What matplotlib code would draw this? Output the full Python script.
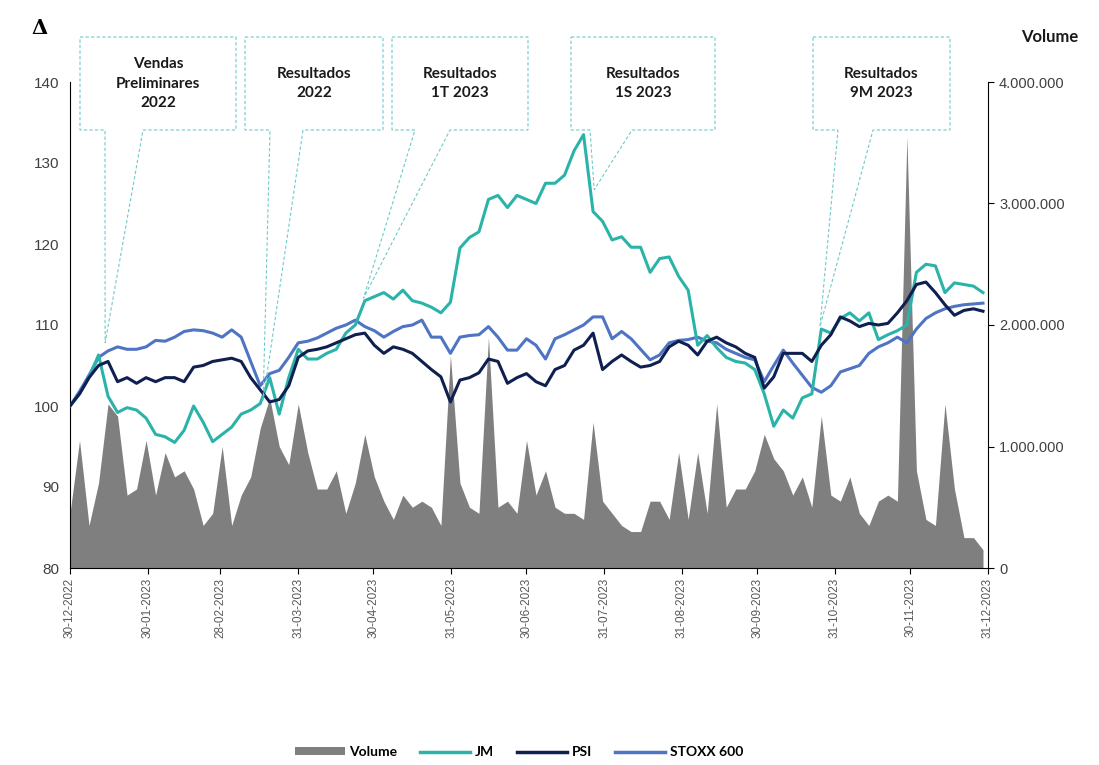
import matplotlib
matplotlib.use("Agg")
import matplotlib.pyplot as plt
import matplotlib.dates as mdates
import numpy as np
import pandas as pd
from matplotlib.lines import Line2D
from matplotlib.patches import Patch, Polygon
from matplotlib.ticker import FuncFormatter

# Index values (base 100), sampled roughly twice a week
jm = [
    100.0, 101.5, 103.5, 106.3, 101.2, 99.2, 99.8, 99.5, 98.5, 96.5,
    96.2, 95.5, 97.0, 100.0, 98.0, 95.6, 96.5, 97.4, 99.0, 99.5,
    100.3, 103.5, 99.0, 103.5, 107.0, 105.8, 105.8, 106.5, 107.0, 109.0,
    110.0, 113.0, 113.5, 114.0, 113.2, 114.3, 113.0, 112.7, 112.2, 111.5,
    112.8, 119.5, 120.8, 121.5, 125.5, 126.0, 124.5, 126.0, 125.5, 125.0,
    127.5, 127.5, 128.5, 131.5, 133.5, 124.0, 122.8, 120.5, 120.9, 119.6,
    119.6, 116.5, 118.2, 118.4, 116.0, 114.3, 107.5, 108.7, 107.2, 106.0,
    105.5, 105.3, 104.5, 101.5, 97.5, 99.5, 98.5, 101.0, 101.5, 109.5,
    109.0, 110.8, 111.5, 110.5, 111.5, 108.2, 108.8, 109.3, 110.0, 116.5,
    117.5, 117.3, 114.0, 115.2, 115.0, 114.8, 114.0,
]
psi = [
    100.0, 101.5, 103.5, 105.0, 105.5, 103.0, 103.5, 102.8, 103.5, 103.0,
    103.5, 103.5, 103.0, 104.8, 105.0, 105.5, 105.7, 105.9, 105.5, 103.5,
    102.0, 100.5, 100.8, 102.5, 106.0, 106.8, 107.0, 107.3, 107.8, 108.3,
    108.8, 109.0, 107.5, 106.5, 107.3, 107.0, 106.5, 105.5, 104.5, 103.6,
    100.5, 103.2, 103.5, 104.1, 105.8, 105.5, 102.8, 103.5, 104.0, 103.0,
    102.5, 104.5, 105.0, 106.9, 107.5, 109.0, 104.5, 105.5, 106.3, 105.5,
    104.8, 105.0, 105.5, 107.3, 108.0, 107.5, 106.3, 108.0, 108.5, 107.8,
    107.3, 106.5, 106.0, 102.2, 103.6, 106.5, 106.5, 106.5, 105.5, 107.5,
    108.8, 111.0, 110.5, 109.8, 110.2, 110.0, 110.2, 111.5, 113.0, 115.0,
    115.3, 114.0, 112.5, 111.2, 111.8, 112.0, 111.7,
]
stoxx = [
    100.0, 101.8, 103.8, 106.0, 106.8, 107.3, 107.0, 107.0, 107.3, 108.1,
    108.0, 108.5, 109.2, 109.4, 109.3, 109.0, 108.5, 109.4, 108.5, 105.5,
    102.5, 104.0, 104.4, 106.0, 107.8, 108.0, 108.4, 109.0, 109.6, 110.0,
    110.6, 109.8, 109.3, 108.5, 109.2, 109.8, 110.0, 110.6, 108.5, 108.5,
    106.5, 108.5, 108.7, 108.8, 109.8, 108.5, 106.9, 106.9, 108.3, 107.5,
    105.8, 108.3, 108.8, 109.4, 110.0, 111.0, 111.0, 108.3, 109.2, 108.3,
    107.0, 105.7, 106.3, 107.8, 108.1, 108.2, 108.5, 108.0, 107.8, 107.0,
    106.5, 106.0, 105.7, 103.0, 105.0, 106.9, 105.3, 103.8, 102.3, 101.7,
    102.5, 104.2, 104.6, 105.0, 106.5, 107.3, 107.8, 108.5, 107.8, 109.5,
    110.8, 111.5, 112.0, 112.3, 112.5, 112.6, 112.7,
]
# traded volume, millions of shares
volume_m = [
    0.45, 1.05, 0.35, 0.70, 1.35, 1.25, 0.60, 0.65, 1.05, 0.60,
    0.95, 0.75, 0.80, 0.65, 0.35, 0.45, 1.00, 0.35, 0.60, 0.75,
    1.15, 1.40, 1.00, 0.85, 1.35, 0.95, 0.65, 0.65, 0.80, 0.45,
    0.70, 1.10, 0.75, 0.55, 0.40, 0.60, 0.50, 0.55, 0.50, 0.35,
    1.75, 0.70, 0.50, 0.45, 1.90, 0.50, 0.55, 0.45, 1.05, 0.60,
    0.80, 0.50, 0.45, 0.45, 0.40, 1.20, 0.55, 0.45, 0.35, 0.30,
    0.30, 0.55, 0.55, 0.40, 0.95, 0.40, 0.95, 0.45, 1.35, 0.50,
    0.65, 0.65, 0.80, 1.10, 0.90, 0.80, 0.60, 0.75, 0.50, 1.25,
    0.60, 0.55, 0.75, 0.45, 0.35, 0.55, 0.60, 0.55, 3.55, 0.80,
    0.40, 0.35, 1.35, 0.65, 0.25, 0.25, 0.15,
]

tick_dates = ["2022-12-30", "2023-01-30", "2023-02-28", "2023-03-31",
              "2023-04-30", "2023-05-31", "2023-06-30", "2023-07-31",
              "2023-08-31", "2023-09-30", "2023-10-31", "2023-11-30",
              "2023-12-31"]

event_labels = ["Vendas\nPreliminares\n2022", "Resultados\n2022",
                "Resultados\n1T 2023", "Resultados\n1S 2023",
                "Resultados\n9M 2023"]
event_dates = ["2023-01-13", "2023-03-17", "2023-04-26", "2023-07-27",
               "2023-10-25"]
event_levels = [107.8, 100.7, 113.3, 126.7, 109.8]

dates = pd.date_range("2022-12-30", "2023-12-29", periods=len(jm))
volume = np.array(volume_m) * 1e6

W, H = 1099, 765
fig = plt.figure(figsize=(W / 100, H / 100), dpi=100)
fig.set_facecolor("white")

ax = fig.add_axes([70 / W, 1 - 568 / H, 918 / W, 486 / H])
axv = ax.twinx()
ax.set_zorder(axv.get_zorder() + 1)
ax.patch.set_visible(False)

# volume area on the right axis
axv.fill_between(dates, 0, volume, color="#7f7f7f", lw=0)
axv.set_ylim(0, 4e6)
axv.set_yticks([0, 1e6, 2e6, 3e6, 4e6])
axv.yaxis.set_major_formatter(
    FuncFormatter(lambda v, p: f"{int(v):,}".replace(",", "."))
)

c_jm, c_psi, c_stoxx = "#2bb3aa", "#0f1f50", "#4f74c4"
ax.plot(dates, jm, color=c_jm, lw=2.2, zorder=3)
ax.plot(dates, psi, color=c_psi, lw=2.2, zorder=4)
ax.plot(dates, stoxx, color=c_stoxx, lw=2.2, zorder=2)

ax.set_ylim(80, 140)
ax.set_yticks(range(80, 141, 10))
ax.set_xlim(pd.Timestamp("2022-12-30"), pd.Timestamp("2023-12-31"))
xt = pd.to_datetime(tick_dates)
ax.set_xticks(xt)
ax.set_xticklabels([d.strftime("%d-%m-%Y") for d in xt], rotation=90)

lab_font = "Liberation Sans"
for a in (ax, axv):
    a.spines["top"].set_visible(False)
ax.spines["right"].set_visible(False)
axv.spines["left"].set_visible(False)
axv.spines["bottom"].set_visible(False)
ax.tick_params(axis="y", length=0, pad=8, labelsize=11, colors="#404040")
ax.tick_params(axis="x", length=4, width=0.8, labelsize=8.5,
               labelcolor="#595959", pad=3)
axv.tick_params(axis="y", length=4, width=0.8, labelsize=10.5,
                labelcolor="#404040", pad=4)
for lbl in ax.get_yticklabels() + ax.get_xticklabels() + axv.get_yticklabels():
    lbl.set_fontfamily(lab_font)

# callout boxes (figure pixels: left, right, top, bottom) and leader starts
boxes = [(80, 236), (245, 383), (392, 528), (571, 715), (813, 950)]
leaders = [(105, 143), (270, 303), (415, 450), (590, 632), (838, 873)]
btop, bbot = 37, 130
to_fig = fig.transFigure.inverted()
for (x0, x1), (s1, s2), lab, d, lvl in zip(boxes, leaders, event_labels,
                                             event_dates, event_levels):
    tip_disp = ax.transData.transform(
        (mdates.date2num(pd.Timestamp(d)), lvl))
    tip = to_fig.transform(tip_disp)
    pts = [(x0, btop), (x1, btop), (x1, bbot), (s2, bbot)]
    pts = [(px / W, 1 - py / H) for px, py in pts]
    pts.append(tuple(tip))
    pts += [(s1 / W, 1 - bbot / H), (x0 / W, 1 - bbot / H)]
    poly = Polygon(pts, closed=True, transform=fig.transFigure,
                   facecolor="none", edgecolor="#6fcaca", lw=0.8,
                   linestyle=(0, (3, 2)), zorder=5)
    fig.add_artist(poly)
    fig.text((x0 + x1) / 2 / W, 1 - (btop + bbot) / 2 / H, lab,
             ha="center", va="center", fontsize=11, fontweight="bold",
             family="Lato", color="#1a1a1a", linespacing=1.5)

fig.text(40 / W, 1 - 28 / H, "Δ", ha="center", va="center",
         fontsize=15, fontweight="bold", family="DejaVu Serif")
fig.text(1050 / W, 1 - 37 / H, "Volume", ha="center", va="center",
         fontsize=12, fontweight="bold", family="Lato", color="#1a1a1a")

handles = [
    Patch(facecolor="#7f7f7f", edgecolor="none"),
    Line2D([], [], color=c_jm, lw=2.5),
    Line2D([], [], color=c_psi, lw=2.5),
    Line2D([], [], color=c_stoxx, lw=2.5),
]
fig.legend(handles, ["Volume", "JM", "PSI", "STOXX 600"], loc="center",
           bbox_to_anchor=(0.472, 1 - 752 / H), ncol=4, frameon=False,
           prop={"family": "Lato", "weight": "bold", "size": 10},
           handlelength=3.6, handleheight=0.5, handletextpad=0.3,
           columnspacing=1.7)

fig.savefig("out.png", dpi=100)
plt.close(fig)
